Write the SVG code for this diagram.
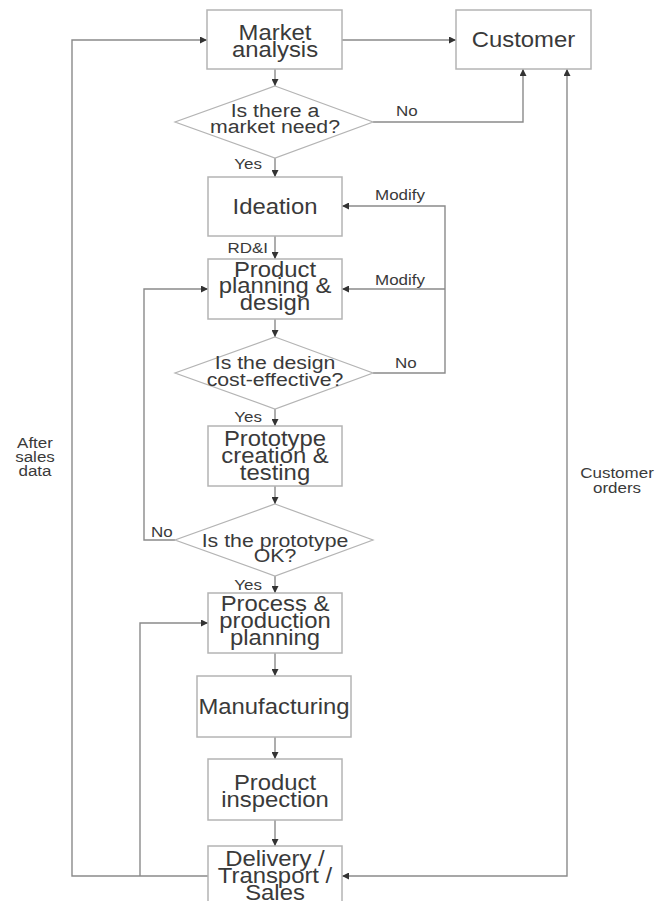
<svg xmlns="http://www.w3.org/2000/svg" width="657" height="901" viewBox="0 0 657 901">
  <style>
    .box { fill: #ffffff; stroke: #b4b4b4; stroke-width: 1.5; }
    .dia { fill: #ffffff; stroke: #b4b4b4; stroke-width: 1.2; }
    .wire { fill: none; stroke: #8a8a8a; stroke-width: 1.4; }
    .n { font-family: "Liberation Sans", Arial, sans-serif; font-size: 21.5px; fill: #3a3a3a; text-anchor: middle; }
    .q { font-family: "Liberation Sans", Arial, sans-serif; font-size: 19px; fill: #3a3a3a; text-anchor: middle; }
    .l { font-family: "Liberation Sans", Arial, sans-serif; font-size: 15.3px; fill: #3a3a3a; }
    .mid { text-anchor: middle; }
    .end { text-anchor: end; }
  </style>
  <defs>
    <marker id="arrow" viewBox="0 0 10 10" refX="10" refY="5" markerWidth="8" markerHeight="7" markerUnits="userSpaceOnUse" orient="auto-start-reverse">
      <path d="M0,0 L10,5 L0,10 z" fill="#333333"/>
    </marker>
  </defs>

  <rect width="657" height="901" fill="#ffffff"/>

  <!-- connectors -->
  <g id="connectors">
    <path class="wire" d="M342,40 H456" marker-end="url(#arrow)"/>
    <path class="wire" d="M208,876 H72 V40 H207" marker-end="url(#arrow)"/>
    <path class="wire" d="M140,876 V623 H208" marker-end="url(#arrow)"/>
    <path class="wire" d="M275,69 V86" marker-end="url(#arrow)"/>
    <path class="wire" d="M373,122 H523 V69" marker-end="url(#arrow)"/>
    <path class="wire" d="M275,158 V177" marker-end="url(#arrow)"/>
    <path class="wire" d="M275,236 V259" marker-end="url(#arrow)"/>
    <path class="wire" d="M275,319 V337" marker-end="url(#arrow)"/>
    <path class="wire" d="M373,373 H445 V206 H342" marker-end="url(#arrow)"/>
    <path class="wire" d="M445,289 H342" marker-end="url(#arrow)"/>
    <path class="wire" d="M275,409 V426" marker-end="url(#arrow)"/>
    <path class="wire" d="M275,486 V504" marker-end="url(#arrow)"/>
    <path class="wire" d="M175,540 H144 V289 H208" marker-end="url(#arrow)"/>
    <path class="wire" d="M275,576 V593" marker-end="url(#arrow)"/>
    <path class="wire" d="M275,653 V676" marker-end="url(#arrow)"/>
    <path class="wire" d="M275,737 V759" marker-end="url(#arrow)"/>
    <path class="wire" d="M275,820 V846" marker-end="url(#arrow)"/>
    <path class="wire" d="M342,876 H567 V69" marker-start="url(#arrow)" marker-end="url(#arrow)"/>

    <text class="l" transform="translate(396 0) scale(1.11 1)" x="0" y="116">No</text>
    <text class="l end" transform="translate(262 0) scale(1.11 1)" x="0" y="169">Yes</text>
    <text class="l" transform="translate(375 0) scale(1.11 1)" x="0" y="200">Modify</text>
    <text class="l end" transform="translate(268 0) scale(1.11 1)" x="0" y="253">RD&amp;I</text>
    <text class="l" transform="translate(375 0) scale(1.11 1)" x="0" y="285">Modify</text>
    <text class="l" transform="translate(395 0) scale(1.11 1)" x="0" y="368">No</text>
    <text class="l end" transform="translate(262 0) scale(1.11 1)" x="0" y="422">Yes</text>
    <text class="l" transform="translate(151 0) scale(1.11 1)" x="0" y="537">No</text>
    <text class="l end" transform="translate(262 0) scale(1.11 1)" x="0" y="590">Yes</text>
    <text class="l mid" transform="translate(35 0) scale(1.11 1)"><tspan x="0" y="448">After</tspan><tspan x="0" y="462">sales</tspan><tspan x="0" y="476">data</tspan></text>
    <text class="l mid" transform="translate(617 0) scale(1.11 1)"><tspan x="0" y="478">Customer</tspan><tspan x="0" y="493">orders</tspan></text>
  </g>

  <!-- nodes -->
  <g id="market-analysis">
    <rect class="box" x="207" y="10" width="135" height="59"/>
    <text class="n" transform="translate(275 0) scale(1.11 1)"><tspan x="0" y="40">Market</tspan><tspan x="0" y="57">analysis</tspan></text>
  </g>
  <g id="customer">
    <rect class="box" x="456" y="10" width="135" height="59"/>
    <text class="n" transform="translate(523.5 0) scale(1.11 1)" x="0" y="47">Customer</text>
  </g>
  <g id="market-need">
    <polygon class="dia" points="275,86 373,122 275,158 175,122"/>
    <text class="q" transform="translate(275 0) scale(1.12 1)"><tspan x="0" y="117">Is there a</tspan><tspan x="0" y="133">market need?</tspan></text>
  </g>
  <g id="ideation">
    <rect class="box" x="208" y="177" width="134" height="59"/>
    <text class="n" transform="translate(275 0) scale(1.11 1)" x="0" y="214">Ideation</text>
  </g>
  <g id="product-planning">
    <rect class="box" x="208" y="259" width="134" height="60"/>
    <text class="n" transform="translate(275 0) scale(1.11 1)"><tspan x="0" y="277">Product</tspan><tspan x="0" y="293.5">planning &amp;</tspan><tspan x="0" y="310">design</tspan></text>
  </g>
  <g id="cost-effective">
    <polygon class="dia" points="275,337 373,373 275,409 175,373"/>
    <text class="q" transform="translate(275 0) scale(1.12 1)"><tspan x="0" y="369">Is the design</tspan><tspan x="0" y="386">cost-effective?</tspan></text>
  </g>
  <g id="prototype">
    <rect class="box" x="208" y="426" width="134" height="60"/>
    <text class="n" transform="translate(275 0) scale(1.11 1)"><tspan x="0" y="446">Prototype</tspan><tspan x="0" y="463">creation &amp;</tspan><tspan x="0" y="480">testing</tspan></text>
  </g>
  <g id="prototype-ok">
    <polygon class="dia" points="275,504 373,540 275,576 175,540"/>
    <text class="q" transform="translate(275 0) scale(1.12 1)"><tspan x="0" y="547">Is the prototype</tspan><tspan x="0" y="562">OK?</tspan></text>
  </g>
  <g id="process-planning">
    <rect class="box" x="208" y="593" width="134" height="60"/>
    <text class="n" transform="translate(275 0) scale(1.11 1)"><tspan x="0" y="611">Process &amp;</tspan><tspan x="0" y="628">production</tspan><tspan x="0" y="645">planning</tspan></text>
  </g>
  <g id="manufacturing">
    <rect class="box" x="197" y="676" width="154" height="61"/>
    <text class="n" transform="translate(274 0) scale(1.11 1)" x="0" y="714">Manufacturing</text>
  </g>
  <g id="inspection">
    <rect class="box" x="208" y="759" width="134" height="61"/>
    <text class="n" transform="translate(275 0) scale(1.11 1)"><tspan x="0" y="790">Product</tspan><tspan x="0" y="807">inspection</tspan></text>
  </g>
  <g id="delivery">
    <rect class="box" x="208" y="846" width="134" height="70"/>
    <text class="n" transform="translate(275 0) scale(1.11 1)"><tspan x="0" y="866">Delivery /</tspan><tspan x="0" y="883">Transport /</tspan><tspan x="0" y="900">Sales</tspan></text>
  </g>
</svg>
